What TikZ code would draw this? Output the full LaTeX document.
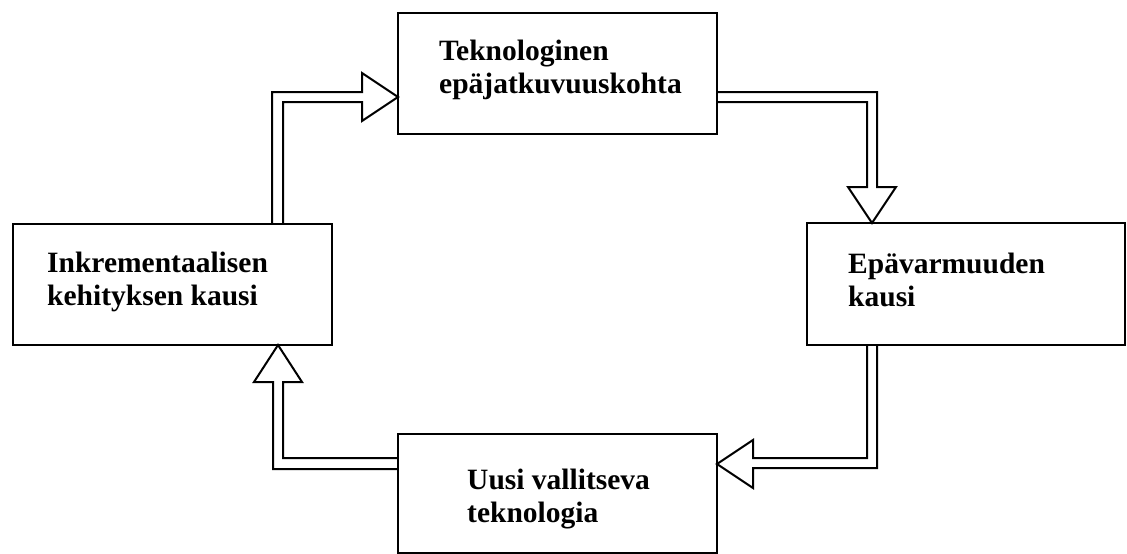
\documentclass[tikz,border=0pt]{standalone}
\usepackage{fontspec}
\setmainfont{Liberation Serif}
\begin{document}
\begin{tikzpicture}[x=1pt,y=-1pt,
  box/.style={draw, line width=2pt, rectangle, inner sep=0pt, outer sep=0pt},
  lbl/.style={font=\fontsize{29.5}{33}\selectfont\bfseries, align=left, inner sep=0pt, anchor=base west},
  flow/.style={draw, line width=2pt, line join=miter}]
\useasboundingbox (0,0) rectangle (1127,554);
\node[box, minimum width=319pt, minimum height=121pt] (T) at (557.5,73.5) {};
\node[box, minimum width=319pt, minimum height=121pt] (L) at (172.5,284.5) {};
\node[box, minimum width=318pt, minimum height=122pt] (R) at (966,284) {};
\node[box, minimum width=319pt, minimum height=119pt] (B) at (557.5,493.5) {};

\node[lbl] (t1) at (439,93) {Teknologinen\\epäjatkuvuuskohta};
\node[lbl] (t2) at (848,306) {Epävarmuuden\\kausi};
\node[lbl] (t3) at (467,522) {Uusi vallitseva\\teknologia};
\node[lbl] (t4) at (47,305) {Inkrementaalisen\\kehityksen kausi};

% left -> top
\draw[flow] (L.north -| 272,0) -- (272,92) -- (362,92) -- (362,73) -- (T.west |- 0,97) -- (362,121) -- (362,102) -- (283,102) -- (L.north -| 283,0);
% top -> right
\draw[flow] (T.east |- 0,92) -- (877,92) -- (877,187) -- (896,187) -- (R.north -| 872,0) -- (848,187) -- (867,187) -- (867,102) -- (T.east |- 0,102);
% right -> bottom
\draw[flow] (R.south -| 877,0) -- (877,468) -- (753,468) -- (753,488) -- (B.east |- 0,464) -- (753,440) -- (753,458) -- (867,458) -- (R.south -| 867,0);
% bottom -> left
\draw[flow] (B.west |- 0,469) -- (273,469) -- (273,382) -- (254,382) -- (L.south -| 278,0) -- (302,382) -- (283,382) -- (283,458) -- (B.west |- 0,458);
\end{tikzpicture}
\end{document}
